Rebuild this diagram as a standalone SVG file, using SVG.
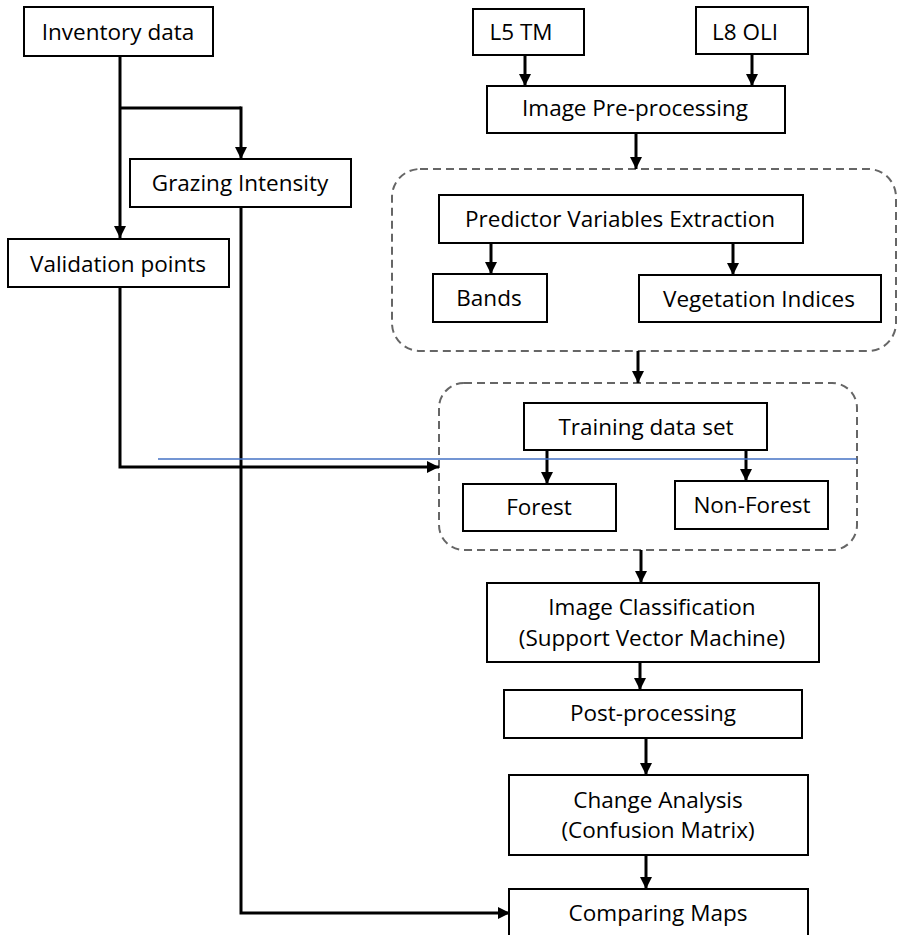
<svg xmlns="http://www.w3.org/2000/svg" width="898" height="935" viewBox="0 0 898 935">
<style>
.box{fill:#fff;stroke:#000;stroke-width:2}
.grp{fill:none;stroke:#666;stroke-width:2;stroke-dasharray:8 5}
.t{font-family:"Open Sans","Liberation Sans",sans-serif;font-size:22.5px;fill:#000;text-anchor:middle}
.c{fill:none;stroke:#000;stroke-width:3;marker-end:url(#ah)}
.c2{fill:none;stroke:#000;stroke-width:3}
</style>
<defs>
<marker id="ah" viewBox="0 0 10 10" refX="10" refY="5" markerWidth="12" markerHeight="12" markerUnits="userSpaceOnUse" orient="auto">
<path d="M0,0 L10,5 L0,10 z" fill="#000"/>
</marker>
</defs>
<rect width="898" height="935" fill="#fff"/>
<g id="group-features">
<rect class="grp" x="392" y="169" width="504" height="182" rx="28"/>
</g>
<g id="group-training">
<rect class="grp" x="439" y="383" width="418" height="167" rx="25"/>
</g>
<g id="connectors">
<path class="c" d="M120,56 V238"/>
<path class="c2" d="M120,108 H241"/>
<path class="c" d="M241,106.5 V159"/>
<path class="c" d="M241,207 V913 H510"/>
<path class="c" d="M120,287 V467 H439"/>
<path class="c" d="M525,56 V86"/>
<path class="c" d="M752,55 V86"/>
<path class="c" d="M636,133 V169"/>
<path class="c" d="M491,243 V274"/>
<path class="c" d="M733,243 V275"/>
<path class="c" d="M638,351 V383"/>
<path class="c" d="M547,450 V484"/>
<path class="c" d="M746,450 V481"/>
<path class="c" d="M641,550 V583"/>
<path class="c" d="M640,662 V690"/>
<path class="c" d="M646,738 V775"/>
<path class="c" d="M646,856 V889"/>
</g>
<g id="inventory"><rect class="box" x="24" y="7" width="189" height="49"/><text class="t" x="118" y="40">Inventory data</text></g>
<g id="grazing"><rect class="box" x="130" y="159" width="221" height="48"/><text class="t" x="240" y="191">Grazing Intensity</text></g>
<g id="validation"><rect class="box" x="8" y="239" width="221" height="48"/><text class="t" x="118" y="272">Validation points</text></g>
<g id="l5tm"><rect class="box" x="473" y="9" width="111" height="46"/><text class="t" x="521" y="40">L5 TM</text></g>
<g id="l8oli"><rect class="box" x="696" y="7" width="112" height="47"/><text class="t" x="745" y="40">L8 OLI</text></g>
<g id="preproc"><rect class="box" x="487" y="86" width="298" height="47"/><text class="t" x="635" y="116">Image Pre-processing</text></g>
<g id="predictor"><rect class="box" x="439" y="195" width="364" height="48"/><text class="t" x="620" y="227">Predictor Variables Extraction</text></g>
<g id="bands"><rect class="box" x="433" y="274" width="114" height="48"/><text class="t" x="489" y="306">Bands</text></g>
<g id="vegidx"><rect class="box" x="639" y="275" width="242" height="47"/><text class="t" x="759" y="307">Vegetation Indices</text></g>
<g id="training"><rect class="box" x="524" y="403" width="243" height="47"/><text class="t" x="646" y="435">Training data set</text></g>
<g id="forest"><rect class="box" x="463" y="484" width="153" height="47"/><text class="t" x="539" y="515">Forest</text></g>
<g id="nonforest"><rect class="box" x="675" y="481" width="153" height="48"/><text class="t" x="752" y="513">Non-Forest</text></g>
<g id="classification"><rect class="box" x="487" y="583" width="332" height="79"/><text class="t" x="652" y="615">Image Classification</text><text class="t" x="652" y="646">(Support Vector Machine)</text></g>
<g id="postproc"><rect class="box" x="504" y="690" width="298" height="48"/><text class="t" x="653" y="721">Post-processing</text></g>
<g id="change"><rect class="box" x="509" y="775" width="299" height="80"/><text class="t" x="658" y="808">Change Analysis</text><text class="t" x="658" y="838">(Confusion Matrix)</text></g>
<g id="comparing"><rect class="box" x="509" y="889" width="299" height="60"/><text class="t" x="658" y="921">Comparing Maps</text></g>
<line x1="158" y1="459" x2="857" y2="459" stroke="#4472C4" stroke-width="1.5"/>
</svg>
